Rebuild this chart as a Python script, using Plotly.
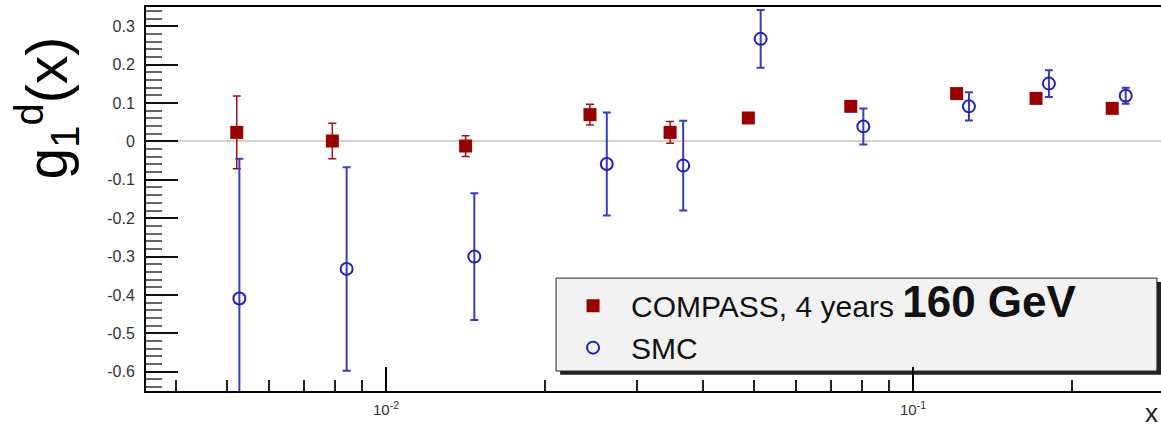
import plotly.graph_objects as go

# COMPASS (160 GeV, 4 years)
compass_x = [0.00521, 0.00791, 0.01416, 0.02438, 0.0346, 0.0487, 0.0762, 0.121, 0.1712, 0.2388]
compass_y = [0.0235, 0.001, -0.012, 0.0697, 0.0235, 0.061, 0.0913, 0.1245, 0.112, 0.086]
compass_err = [0.095, 0.046, 0.027, 0.027, 0.028, 0.01, 0.008, 0.008, 0.008, 0.008]

# SMC
smc_x = [0.00527, 0.00842, 0.01471, 0.02624, 0.03664, 0.0514, 0.0805, 0.1277, 0.1811, 0.2533]
smc_y = [-0.409, -0.332, -0.300, -0.059, -0.063, 0.267, 0.039, 0.0913, 0.1505, 0.119]
smc_err = [0.364, 0.265, 0.165, 0.134, 0.117, 0.075, 0.047, 0.037, 0.035, 0.021]

x_tickvals = [0.01, 0.1]
x_ticktext = ["10<sup>-2</sup>", "10<sup>-1</sup>"]
x_minor = [0.004, 0.005, 0.006, 0.007, 0.008, 0.009,
           0.02, 0.03, 0.04, 0.05, 0.06, 0.07, 0.08, 0.09, 0.2]
y_tickvals = [-0.6, -0.5, -0.4, -0.3, -0.2, -0.1, 0, 0.1, 0.2, 0.3]
y_ticktext = ["-0.6", "-0.5", "-0.4", "-0.3", "-0.2", "-0.1", "0", "0.1", "0.2", "0.3"]

FONT = "Liberation Sans, Arial, sans-serif"

fig = go.Figure()
fig.add_trace(go.Scatter(
    x=compass_x, y=compass_y, mode="markers",
    name="COMPASS, 4 years <b><span style='font-size:44px'>160 GeV</span></b>",
    marker=dict(symbol="square", size=13, color="#990000"),
    error_y=dict(type="data", array=compass_err, color="#a31010", thickness=1.5, width=4),
))
fig.add_trace(go.Scatter(
    x=smc_x, y=smc_y, mode="markers", name="SMC",
    marker=dict(symbol="circle-open", size=12, color="#2222b0", line=dict(width=2, color="#2222b0")),
    error_y=dict(type="data", array=smc_err, color="#3b3bbf", thickness=2, width=4),
))

# legend frame with shadow (paper coords)
fig.add_shape(type="rect", xref="paper", yref="paper", x0=0.408, x1=1.0, y0=0.042, y1=0.284,
              fillcolor="#222222", line=dict(width=0), layer="below")
fig.add_shape(type="rect", xref="paper", yref="paper", x0=0.404, x1=0.996, y0=0.052, y1=0.294,
              fillcolor="#f2f2f2", line=dict(width=1, color="#222222"), layer="below")

fig.add_annotation(text="g<sub>1</sub><sup>d</sup>(x)", textangle=-90, xref="paper", yref="paper",
                   x=-0.0975, y=0.736, xanchor="center", yanchor="middle", showarrow=False,
                   font=dict(size=57, color="#000000", family=FONT))
fig.add_annotation(text="x", xref="paper", yref="paper", x=0.991, y=-0.057,
                   xanchor="center", yanchor="middle", showarrow=False,
                   font=dict(size=26, color="#222222", family=FONT))

fig.update_layout(
    width=1161, height=428,
    margin=dict(l=146, r=0, t=7, b=37),
    paper_bgcolor="white", plot_bgcolor="white",
    font=dict(family=FONT, color="#222222"),
    showlegend=True,
    legend=dict(x=0.403, y=0.29, xanchor="left", yanchor="top",
                bgcolor="rgba(0,0,0,0)", borderwidth=0,
                font=dict(size=30, color="#111111", family=FONT),
                itemsizing="trace", itemwidth=66, tracegroupgap=0),
)
fig.update_xaxes(
    type="log", range=[-2.4554, -0.5294],
    showline=True, linecolor="#000000", linewidth=2, mirror=True,
    showgrid=False, zeroline=False,
    tickmode="array", tickvals=x_tickvals, ticktext=x_ticktext,
    ticks="inside", ticklen=24, tickwidth=1.5, tickcolor="#000000",
    tickfont=dict(size=15, color="#333333"), ticklabelstandoff=4,
    minor=dict(tickmode="array", tickvals=x_minor, ticks="inside", ticklen=11,
               tickwidth=1.5, tickcolor="#222222", showgrid=False),
)
fig.update_yaxes(
    range=[-0.65, 0.35],
    showline=True, linecolor="#000000", linewidth=2,
    showgrid=False, zeroline=True, zerolinecolor="#d8d4cb", zerolinewidth=2,
    tickmode="array", tickvals=y_tickvals, ticktext=y_ticktext,
    ticks="inside", ticklen=32, tickwidth=2, tickcolor="#111111",
    tickfont=dict(size=16, color="#333333"), ticklabelstandoff=6,
    minor=dict(dtick=0.02, tick0=0, ticks="inside", ticklen=16, tickwidth=2,
               tickcolor="#666666", showgrid=False),
)

fig.write_html("out.html", config={"displayModeBar": False},
               post_script="document.body.style.margin='0px';")
